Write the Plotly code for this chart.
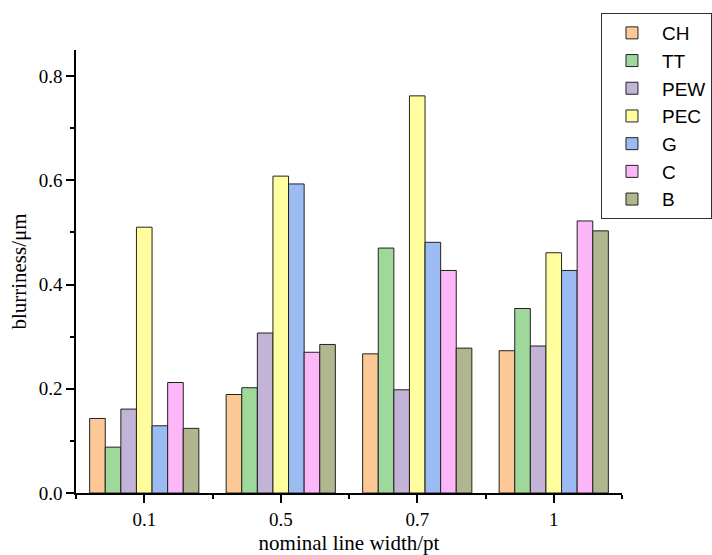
import plotly.graph_objects as go

categories = ["0.1", "0.5", "0.7", "1"]
series_names = ["CH", "TT", "PEW", "PEC", "G", "C", "B"]
CH = [0.143, 0.189, 0.267, 0.273]
TT = [0.088, 0.202, 0.470, 0.354]
PEW = [0.161, 0.307, 0.198, 0.282]
PEC = [0.510, 0.608, 0.762, 0.461]
G = [0.129, 0.593, 0.481, 0.427]
C = [0.212, 0.270, 0.427, 0.522]
B = [0.124, 0.285, 0.278, 0.503]
series_values = [CH, TT, PEW, PEC, G, C, B]
colors = ["#FBC896", "#9ED89B", "#C3B3D6", "#FFFD9D", "#9CBBF2", "#FBB7F7", "#B1B68F"]
y_ticks = [0.0, 0.2, 0.4, 0.6, 0.8]

xpos = list(range(len(categories)))

fig = go.Figure()
for name, vals, col in zip(series_names, series_values, colors):
    fig.add_trace(go.Bar(
        x=xpos, y=vals, name=name,
        marker=dict(color=col, line=dict(color="#222222", width=1)),
    ))

serif = "Liberation Serif, Times New Roman, serif"
fig.update_layout(
    width=712, height=555,
    paper_bgcolor="white", plot_bgcolor="white",
    barmode="group", bargap=0.2, bargroupgap=0,
    margin=dict(l=76, r=90, t=50, b=62, autoexpand=False),
    font=dict(family=serif, color="black"),
    legend=dict(
        x=0.9615, y=1.0835, xanchor="left", yanchor="top",
        bordercolor="#333333", borderwidth=1, bgcolor="white",
        font=dict(family="Liberation Sans, Arial, sans-serif", size=19, color="black"),
        tracegroupgap=0, itemwidth=50,
    ),
    showlegend=True,
)
fig.update_xaxes(
    range=[-0.5, 3.5], tickmode="array", tickvals=xpos, ticktext=categories,
    showline=True, linecolor="black", linewidth=1.5,
    ticks="outside", ticklen=8, tickwidth=1.5, tickcolor="black",
    minor=dict(tickmode="array", tickvals=[-0.5, 0.5, 1.5, 2.5, 3.5],
               ticks="outside", ticklen=4, tickwidth=1.5, tickcolor="black"),
    showgrid=False, zeroline=False,
    tickfont=dict(family=serif, size=19),
    title=dict(text="nominal line width/pt", font=dict(family=serif, size=21), standoff=8),
)
fig.update_yaxes(
    range=[0, 0.85], tickmode="array", tickvals=y_ticks, tickformat=".1f",
    showline=True, linecolor="black", linewidth=1.5,
    ticks="outside", ticklen=8, tickwidth=1.5, tickcolor="black",
    minor=dict(tickmode="array", tickvals=[0.1, 0.3, 0.5, 0.7],
               ticks="outside", ticklen=4, tickwidth=1.5, tickcolor="black"),
    showgrid=False, zeroline=False,
    tickfont=dict(family=serif, size=19),
    title=dict(text="blurriness/μm", font=dict(family=serif, size=21), standoff=6),
)

fig.write_html(
    "out.html",
    config={"displayModeBar": False},
    post_script="document.body.style.margin='0';document.body.style.overflow='hidden';",
)
